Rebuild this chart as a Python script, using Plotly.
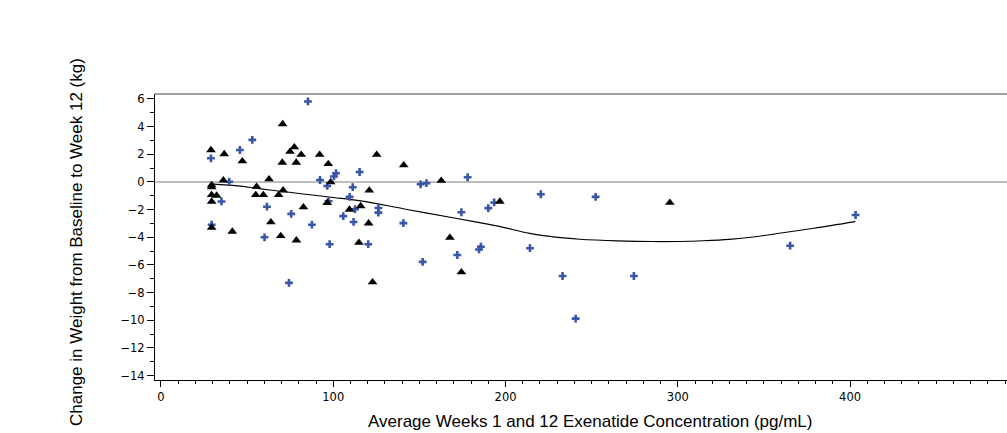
import plotly.graph_objects as go

# Exenatide concentration (pg/mL) vs change in weight (kg), two patient groups
plus_conc = [29.0, 29.4, 35.1, 39.6, 45.8, 53.0, 60.1, 61.5, 75.6, 74.3, 85.3, 87.6,
             92.3, 96.5, 97.3, 97.9, 100.4, 101.6, 105.8, 109.5, 111.3, 111.8, 112.6,
             115.3, 120.3, 126.2, 126.2, 140.7, 150.7, 154.1, 151.9, 172.0, 174.4,
             178.0, 184.6, 185.7, 190.0, 193.4, 214.2, 220.5, 233.1, 240.7, 252.3,
             274.5, 365.2, 403.2]
plus_wt = [1.71, -3.09, -1.41, 0.02, 2.31, 3.04, -4.00, -1.79, -2.31, -7.30, 5.82, -3.09,
           0.14, -0.29, -1.39, -4.50, 0.40, 0.63, -2.47, -1.08, -0.38, -2.89, -1.97,
           0.72, -4.50, -1.88, -2.22, -2.98, -0.17, -0.09, -5.78, -5.28, -2.19,
           0.34, -4.88, -4.68, -1.89, -1.48, -4.79, -0.89, -6.80, -9.88, -1.08,
           -6.80, -4.61, -2.39]

tri_conc = [29.0, 36.7, 47.2, 36.2, 29.4, 29.4, 29.4, 32.3, 29.4, 29.4, 41.4, 55.5,
            55.0, 59.4, 62.7, 63.8, 68.3, 70.9, 69.5, 70.6, 70.4, 74.9, 77.4, 78.5,
            81.4, 82.7, 78.6, 92.1, 97.1, 98.5, 96.5, 109.4, 114.9, 115.9, 120.9,
            120.5, 122.8, 125.2, 140.9, 162.7, 167.7, 174.4, 196.7, 295.4]
tri_wt = [2.31, 2.02, 1.50, 0.12, -0.22, -0.38, -0.94, -0.98, -1.42, -3.30, -3.59, -0.34,
          -0.94, -0.94, 0.20, -2.91, -0.94, -0.60, -3.90, 4.19, 1.40, 2.19, 2.51, 1.40,
          1.97, -1.82, -4.22, 1.97, 1.30, -0.02, -1.51, -2.00, -4.39, -1.74, -0.61,
          -2.99, -7.25, 1.97, 1.21, 0.09, -4.03, -6.52, -1.42, -1.50]

# Smoothed trend curve
fit_conc = [29, 46, 55, 63, 80, 100, 115, 142, 171, 185, 197, 214, 229, 243, 265,
            286, 300, 315, 330, 345, 359, 379, 403]
fit_wt = [-0.14, -0.30, -0.45, -0.58, -0.83, -1.12, -1.35, -1.97, -2.63, -2.94, -3.23,
          -3.72, -3.99, -4.14, -4.26, -4.31, -4.30, -4.25, -4.15, -3.96, -3.71, -3.35, -2.87]

x_ticks = [0, 100, 200, 300, 400]
y_ticks = [6, 4, 2, 0, -2, -4, -6, -8, -10, -12, -14]

fig = go.Figure()

fig.add_trace(go.Scatter(
    x=fit_conc, y=fit_wt, mode="lines",
    line=dict(color="black", width=1.1, shape="spline", smoothing=1.0),
    showlegend=False, hoverinfo="skip"))

fig.add_trace(go.Scatter(
    x=plus_conc, y=plus_wt, mode="markers",
    marker=dict(symbol="cross", size=6.5, color="#3a56a8", line=dict(width=0)),
    showlegend=False))

fig.add_trace(go.Scatter(
    x=tri_conc, y=tri_wt, mode="markers",
    marker=dict(symbol="triangle-up", size=8.5, color="black", line=dict(width=0)),
    showlegend=False))

tick_font = dict(family="DejaVu Sans", size=11.5, color="black")
title_font = dict(family="Liberation Sans, Arial", size=17, color="black")

fig.update_layout(
    width=1007, height=433,
    margin=dict(l=155, r=0, t=94, b=53),
    paper_bgcolor="white", plot_bgcolor="white",
    xaxis=dict(
        range=[-3.48, 491.1], tickvals=x_ticks, ticktext=[str(v) for v in x_ticks],
        ticks="outside", ticklen=6, tickwidth=1, tickcolor="black",
        minor=dict(dtick=10, tick0=0, ticks="outside", ticklen=3, tickcolor="black", showgrid=False),
        showline=True, linecolor="black", linewidth=1,
        showgrid=False, zeroline=False, tickfont=tick_font),
    yaxis=dict(
        range=[-14.32, 6.36], tickvals=y_ticks,
        ticks="outside", ticklen=7, tickwidth=1, tickcolor="black",
        minor=dict(dtick=1, tick0=0, ticks="outside", ticklen=4, tickcolor="black", showgrid=False),
        showline=True, linecolor="black", linewidth=1,
        showgrid=False, zeroline=False, tickfont=tick_font),
    shapes=[
        dict(type="line", xref="paper", yref="paper", x0=0, x1=1, y0=1, y1=1,
             line=dict(color="#808080", width=1.5)),
        dict(type="line", xref="paper", yref="y", x0=0, x1=1, y0=0, y1=0,
             line=dict(color="#a8a8a8", width=1.5), layer="below"),
    ],
    annotations=[
        dict(text="Average Weeks 1 and 12 Exenatide Concentration (pg/mL)",
             xref="paper", yref="paper", x=(590 - 155) / 852, y=(380 - 421) / 286,
             xanchor="center", yanchor="middle", showarrow=False, font=title_font),
        dict(text="Change in Weight from Baseline to Week 12 (kg)",
             xref="paper", yref="paper", x=(76 - 155) / 852, y=(380 - 242) / 286,
             xanchor="center", yanchor="middle", textangle=-90, showarrow=False,
             font=title_font),
    ],
)

fig.write_html("out.html")
